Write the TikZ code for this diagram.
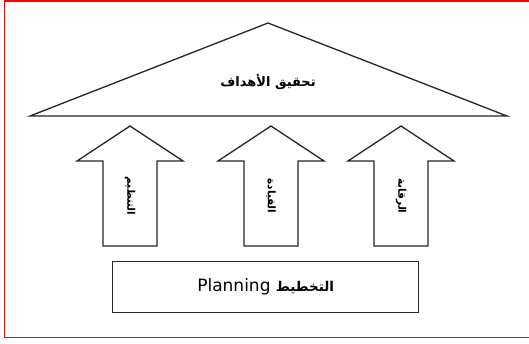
\documentclass[tikz,border=0pt]{standalone}
\usepackage{fontspec}
\setmainfont{DejaVu Sans}
\newfontfamily\arabicfont[Script=Arabic]{DejaVu Sans}
\TeXXeTstate=1
\begin{document}
\begin{tikzpicture}[x=1pt,y=-1pt,
  shape line/.style={draw=black!85,line width=1.3pt,line join=miter},
  arrowlabel/.style={font=\arabicfont\bfseries\fontsize{10.5}{12}\selectfont,rotate=-90,inner sep=0pt}]
\useasboundingbox (0,0) rectangle (529,343);
\fill[white] (0,0) rectangle (529,343);
\draw[red,line width=1.6pt] (531,0.8) -- (4.5,0.8) -- (4.5,337.5) -- (531,337.5);
% roof
\coordinate (apex) at (268,23);
\coordinate (bl) at (30,116);
\coordinate (br) at (507,116);
\draw[shape line] (apex) -- (br) -- (bl) -- cycle;
\node[font=\arabicfont\bfseries\fontsize{13}{15}\selectfont,inner sep=0pt] (goal) at (268,82) {\beginR تحقيق الأهداف\endR};
% arrows
\foreach \n/\cx/\txt in {org/130/التنظيم, lead/271/القيادة, ctrl/401/الرقابة}{
  \draw[shape line] (\cx,126) -- (\cx+53,161) -- (\cx+27,161) -- (\cx+27,246)
     -- (\cx-27,246) -- (\cx-27,161) -- (\cx-53,161) -- cycle;
  \node[arrowlabel] (\n) at (\cx,196) {\beginR\txt\endR};
}
% base
\node[shape line,minimum width=306pt,minimum height=51pt,inner sep=0pt,anchor=north west] (plan) at (112,261) {};
\node[font=\fontsize{17}{20}\selectfont,inner sep=0pt] (plantxt) at (plan.center) {Planning {\arabicfont\bfseries\fontsize{13.5}{16}\selectfont\beginR التخطيط\endR}};
\end{tikzpicture}
\end{document}
